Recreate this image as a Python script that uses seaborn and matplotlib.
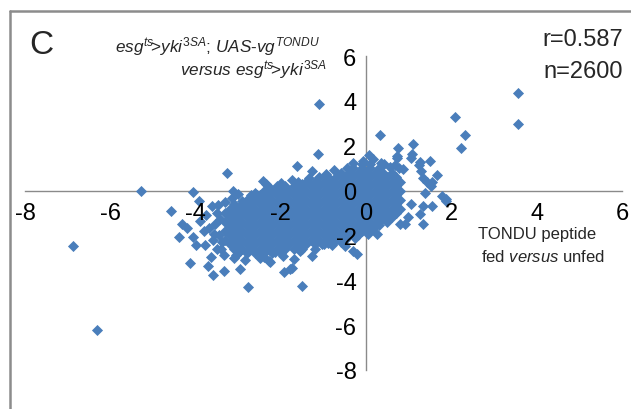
import matplotlib
matplotlib.use("Agg")
import matplotlib.pyplot as plt
from matplotlib.lines import Line2D
import seaborn as sns
import pandas as pd

# ---------------- data ----------------
# sparse / outlying points
sparse_x = [-6.88, -6.31, -5.28, -1.10, 3.57, 3.57, 2.09, 2.32, 2.23,
            0.33, -1.14, 1.10, 0.74, -3.26, -1.62, -1.26, -2.42, -1.50,
            -4.06, -3.13, -4.58, -3.92, -3.62, -3.47, -4.32, -4.20, -3.90, -4.39, -4.06, -3.99,
            -3.78, -3.69, -3.57, -3.43, -3.38, -3.64, -4.13, -3.71, -3.59, -3.34, -3.33, -3.05,
            -2.96, -2.77, -2.89, -2.56,
            -2.28, -1.92, -1.78, -1.69, -1.50, -1.27, -2.25, -2.14, -1.74, -1.03, -0.80, -0.49,
            -0.31, -0.21,
            1.08, 1.06, 1.27, 1.50, 0.73, 0.87, 0.68, 1.29, 1.34, 1.67, 1.55, 1.53, 1.38, 1.78,
            1.88, 1.55, 1.34, 1.27, 1.06, 1.34, 0.99, 0.80, 0.92, 0.63, 0.26, 0.14, 0.07, 0.42,
            0.78, -0.07, 0.73, 1.24, 1.43, 1.88,
            -2.90, -2.60, -2.35, -2.00, -1.75, -1.35, -0.95, -0.75, -0.45, -0.30, 0.15, 0.35, 0.55,
            -3.40, -3.10, -2.85, -2.50, -2.40, -1.95, -1.55, -1.20, -0.90, -0.60, -0.25, 0.05,
            0.30, 0.50, 0.70,
            -3.50, -3.55, -3.45, -3.60, -3.80, -3.50, -3.75, -3.30, -3.15, -3.00]
sparse_y = [-2.46, -6.20, 0.00, 3.84, 4.33, 2.99, 3.26, 2.46, 1.88,
            2.46, 1.62, 2.08, 1.92, 0.78, 1.10, 0.89, 0.42, 0.31,
            -0.06, 0.00, -0.90, -0.45, -0.70, -0.65, -1.50, -1.65, -1.34, -2.07, -2.05, -2.41,
            -2.41, -1.65, -1.92, -1.25, -2.28, -2.95, -3.21, -3.37, -3.77, -3.60, -2.86, -2.86,
            -3.48, -4.29, -0.70, -0.20,
            -3.12, -3.62, -3.48, -3.07, -4.24, -2.90, -3.17, -2.72, -3.44, -2.37, -2.41, -2.46,
            -2.68, -2.81,
            1.65, 1.43, 1.29, 1.34, 1.43, 0.98, 1.12, 0.89, 0.54, 0.71, 0.40, 0.22, -0.09, -0.22,
            -0.45, -0.71, -0.71, -1.03, -0.62, -1.47, -1.16, -1.47, -1.47, -0.94, -1.92, -1.70, 1.60, 1.20,
            1.00, 1.34, 1.52, 1.16, 0.36, -0.36,
            -0.45, -0.10, 0.30, 0.35, 0.45, 0.55, 0.75, 0.90, 1.00, 1.25, 1.40, 1.25, 1.05,
            -2.60, -3.00, -3.10, -3.00, -2.95, -2.90, -2.70, -2.60, -2.35, -2.30, -2.10, -1.95,
            -1.55, -1.25, -1.00,
            -1.00, -1.50, -2.00, -2.20, -1.80, -2.60, -1.10, -0.50, -0.35, -0.15]

# dense core of the cloud, read row by row
core_y = [1.2, 1.0, 0.8, 0.6, 0.4, 0.2, 0.0, -0.2, -0.4, -0.6, -0.8, -1.0,
          -1.2, -1.4, -1.6, -1.8, -2.0, -2.2, -2.4, -2.6, -2.8]
core_x = [
    [-0.1, 0.1],
    [-0.3, -0.1, 0.1, 0.3],
    [-0.6, -0.4, -0.2, 0.0, 0.2, 0.4, 0.6],
    [-1.1, -0.9, -0.7, -0.5, -0.3, -0.1, 0.1, 0.3, 0.5, 0.7],
    [-1.6, -1.4, -1.2, -1.0, -0.8, -0.6, -0.4, -0.2, 0.0, 0.2, 0.4, 0.6, 0.8],
    [-2.3, -2.1, -1.9, -1.7, -1.5, -1.3, -1.1, -0.9, -0.7, -0.5, -0.3, -0.1, 0.1, 0.3, 0.5, 0.7],
    [-2.4, -2.2, -2.0, -1.8, -1.6, -1.4, -1.2, -1.0, -0.8, -0.6, -0.4, -0.2, 0.0, 0.2, 0.4, 0.6, 0.8],
    [-2.7, -2.5, -2.3, -2.1, -1.9, -1.7, -1.5, -1.3, -1.1, -0.9, -0.7, -0.5, -0.3, -0.1, 0.1, 0.3, 0.5, 0.7],
    [-2.8, -2.6, -2.4, -2.2, -2.0, -1.8, -1.6, -1.4, -1.2, -1.0, -0.8, -0.6, -0.4, -0.2, 0.0, 0.2, 0.4, 0.6, 0.8],
    [-3.1, -2.9, -2.7, -2.5, -2.3, -2.1, -1.9, -1.7, -1.5, -1.3, -1.1, -0.9, -0.7, -0.5, -0.3, -0.1, 0.1, 0.3, 0.5, 0.7],
    [-3.2, -3.0, -2.8, -2.6, -2.4, -2.2, -2.0, -1.8, -1.6, -1.4, -1.2, -1.0, -0.8, -0.6, -0.4, -0.2, 0.0, 0.2, 0.4, 0.6, 0.8],
    [-3.3, -3.1, -2.9, -2.7, -2.5, -2.3, -2.1, -1.9, -1.7, -1.5, -1.3, -1.1, -0.9, -0.7, -0.5, -0.3, -0.1, 0.1, 0.3, 0.5, 0.7],
    [-3.2, -3.0, -2.8, -2.6, -2.4, -2.2, -2.0, -1.8, -1.6, -1.4, -1.2, -1.0, -0.8, -0.6, -0.4, -0.2, 0.0, 0.2, 0.4, 0.6],
    [-3.3, -3.1, -2.9, -2.7, -2.5, -2.3, -2.1, -1.9, -1.7, -1.5, -1.3, -1.1, -0.9, -0.7, -0.5, -0.3, -0.1, 0.1, 0.3, 0.5],
    [-3.2, -3.0, -2.8, -2.6, -2.4, -2.2, -2.0, -1.8, -1.6, -1.4, -1.2, -1.0, -0.8, -0.6, -0.4, -0.2, 0.0, 0.2],
    [-3.3, -3.1, -2.9, -2.7, -2.5, -2.3, -2.1, -1.9, -1.7, -1.5, -1.3, -1.1, -0.9, -0.7, -0.5, -0.3, -0.1, 0.1],
    [-3.2, -3.0, -2.8, -2.6, -2.4, -2.2, -2.0, -1.8, -1.6, -1.4, -1.2, -1.0, -0.8, -0.6, -0.4, -0.2],
    [-3.3, -3.1, -2.9, -2.7, -2.5, -2.3, -2.1, -1.9, -1.7, -1.5, -1.3, -1.1, -0.9, -0.7, -0.5],
    [-3.2, -3.0, -2.8, -2.6, -2.4, -2.2, -2.0, -1.8, -1.6, -1.4, -1.2, -1.0],
    [-3.1, -2.9, -2.7, -2.5, -2.3, -2.1, -1.9, -1.7, -1.5],
    [-3.0, -2.8, -2.6, -2.4, -2.2, -2.0],
]

x_ticks = [-8, -6, -4, -2, 0, 2, 4, 6]
y_ticks = [-8, -6, -4, -2, 0, 2, 4, 6]

# ---------------- build the table ----------------
xs = list(sparse_x)
ys = list(sparse_y)
for yv, row in zip(core_y, core_x):
    xs.extend(row)
    ys.extend([yv] * len(row))
df = pd.DataFrame({"x": xs, "y": ys})

# ---------------- style ----------------
sns.set_style("white")
plt.rcParams["font.family"] = ["Liberation Sans", "DejaVu Sans"]
plt.rcParams["mathtext.fontset"] = "custom"
plt.rcParams["mathtext.rm"] = "Liberation Sans"
plt.rcParams["mathtext.it"] = "Liberation Sans:italic"
plt.rcParams["mathtext.default"] = "it"

W, H = 631, 410
fig = plt.figure(figsize=(W / 100, H / 100), dpi=100)
ax = fig.add_axes([25 / W, 1 - 371 / H, 597 / W, 314 / H])

BLUE = "#4A7EBB"
GRAY = "#8A8A8A"

sns.scatterplot(data=df, x="x", y="y", marker="D", s=32, color=BLUE,
                linewidth=0, ax=ax, zorder=2, legend=False)

ax.set_xlim(-8, 6)
ax.set_ylim(-8, 6)
ax.set_xticks(x_ticks)
ax.set_yticks(y_ticks)
ax.set_xticklabels([str(v) for v in x_ticks])
ax.set_yticklabels([str(v) for v in y_ticks])
ax.set_xlabel("")
ax.set_ylabel("")

for side in ["top", "right"]:
    ax.spines[side].set_visible(False)
for side in ["left", "bottom"]:
    ax.spines[side].set_position(("data", 0))
    ax.spines[side].set_color(GRAY)
    ax.spines[side].set_linewidth(1.0)
    ax.spines[side].set_zorder(1.5)
ax.xaxis.set_zorder(3)
ax.yaxis.set_zorder(3)
ax.tick_params(axis="both", direction="out", length=4, width=1.0,
               color=GRAY, labelsize=17, labelcolor="black")
ax.tick_params(axis="x", pad=4.5)
ax.tick_params(axis="y", pad=3)
ax.patch.set_alpha(0)

# ---------------- texts ----------------
fig.text(41 / W, 1 - 45 / H, "C", fontsize=24, ha="center", va="center")
fig.text(115 / W, 1 - 47 / H,
         r"$esg^{ts}\!\text{>}yki^{3SA}\text{;}\ UAS\text{-}vg^{TONDU}$",
         fontsize=12.3, ha="left", va="center")
fig.text(327 / W, 1 - 70 / H, r"$versus\ esg^{ts}\!\text{>}yki^{3SA}$",
         fontsize=12.3, ha="right", va="center")
fig.text(623 / W, 1 - 40 / H, "r=0.587", fontsize=17, ha="right", va="center")
fig.text(623 / W, 1 - 72 / H, "n=2600", fontsize=17, ha="right", va="center")
fig.text(537 / W, 1 - 235 / H, "TONDU peptide", fontsize=12, ha="center", va="center")
fig.text(543 / W, 1 - 257 / H, r"fed $versus$ unfed", fontsize=12, ha="center", va="center")

# panel frame (top and left edges visible)
fig.add_artist(Line2D([10 / W, 10 / W], [0, 1 - 12 / H], color="#8C8C8C", lw=1.8,
                      transform=fig.transFigure))
fig.add_artist(Line2D([10 / W, 1], [1 - 12 / H, 1 - 12 / H], color="#8C8C8C", lw=1.8,
                      transform=fig.transFigure))

fig.savefig("out.png", dpi=100, facecolor="white")
